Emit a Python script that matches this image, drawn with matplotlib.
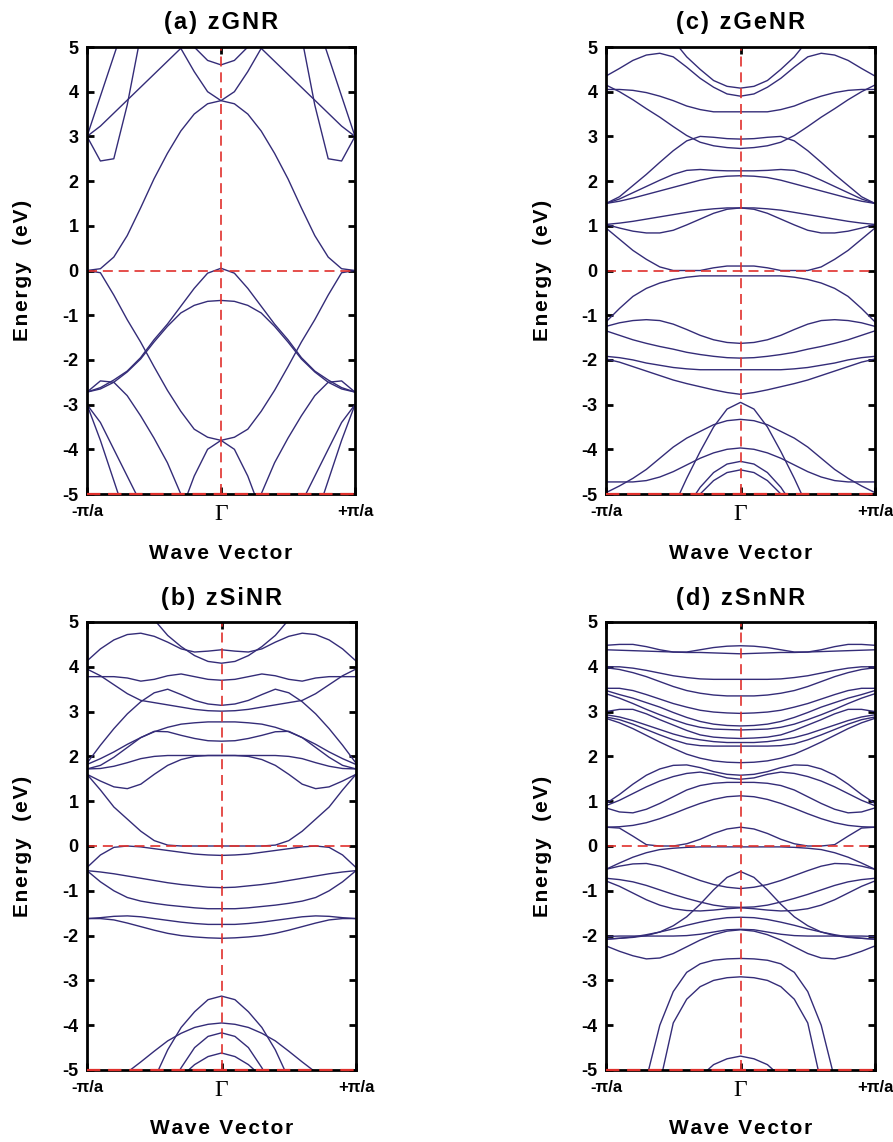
import numpy as np
import matplotlib
matplotlib.use("Agg")
import matplotlib.pyplot as plt

# ---------------- data (half Brillouin zone, symmetric about Gamma) ----------------
K_HALF = [0.0, 0.1, 0.2, 0.3, 0.4, 0.5, 0.6, 0.7, 0.8, 0.9, 1.0]

ZGNR_BANDS = [
    [3.80, 3.73, 3.50, 3.12, 2.62, 2.05, 1.40, 0.78, 0.30, 0.04, 0.00],
    [4.60, 4.70, 5.00, 5.45, 6.00, 6.50, 7.00, 7.50, 8.00, 8.30, 8.40],
    [3.80, 4.00, 4.45, 4.97, 4.68, 4.39, 4.10, 3.81, 3.52, 3.23, 3.00],
    [7.50, 7.30, 7.00, 6.70, 6.30, 5.80, 5.25, 3.70, 2.50, 2.45, 3.00],
    [8.00, 8.00, 8.00, 8.00, 7.80, 7.40, 6.80, 5.70, 4.80, 3.90, 3.00],
    [-3.80, -3.73, -3.55, -3.15, -2.68, -2.15, -1.60, -1.10, -0.55, -0.05, 0.00],
    [0.05, -0.06, -0.40, -0.80, -1.20, -1.55, -1.95, -2.25, -2.45, -2.62, -2.72],
    [-0.67, -0.69, -0.78, -0.95, -1.25, -1.60, -1.98, -2.27, -2.50, -2.65, -2.72],
    [-6.00, -5.90, -5.60, -5.00, -4.30, -3.75, -3.25, -2.80, -2.50, -2.47, -2.72],
    [-3.80, -4.00, -4.60, -5.40, -6.30, -7.00, -7.50, -8.00, -8.00, -8.00, -8.00],
    [-9.00, -9.00, -9.00, -9.00, -8.50, -8.00, -7.50, -5.60, -4.70, -3.80, -3.00],
    [-9.00, -9.00, -8.50, -8.00, -7.20, -5.70, -5.20, -4.60, -4.00, -3.40, -3.00],
]

ZGENR_BANDS = [
    [0.10, 0.10, 0.06, 0.00, 0.00, 0.00, 0.08, 0.25, 0.45, 0.70, 0.95],
    [1.40, 1.37, 1.28, 1.15, 1.02, 0.90, 0.84, 0.84, 0.88, 0.95, 1.03],
    [1.40, 1.40, 1.38, 1.35, 1.30, 1.25, 1.20, 1.15, 1.10, 1.06, 1.03],
    [2.12, 2.11, 2.08, 2.02, 1.94, 1.86, 1.78, 1.70, 1.62, 1.55, 1.50],
    [2.23, 2.23, 2.24, 2.26, 2.24, 2.15, 2.02, 1.88, 1.74, 1.60, 1.50],
    [2.94, 2.95, 2.98, 3.00, 2.90, 2.68, 2.42, 2.15, 1.90, 1.65, 1.50],
    [2.73, 2.75, 2.79, 2.87, 3.02, 3.22, 3.43, 3.62, 3.82, 4.00, 4.15],
    [3.55, 3.55, 3.55, 3.60, 3.68, 3.80, 3.90, 3.98, 4.03, 4.05, 4.05],
    [3.90, 3.95, 4.10, 4.30, 4.55, 4.78, 4.86, 4.82, 4.70, 4.52, 4.35],
    [4.08, 4.12, 4.25, 4.50, 4.78, 5.15, 5.60, 6.00, 6.30, 6.50, 6.60],
    [-0.12, -0.12, -0.12, -0.12, -0.15, -0.20, -0.28, -0.40, -0.58, -0.85, -1.15],
    [-1.63, -1.61, -1.55, -1.45, -1.32, -1.20, -1.12, -1.10, -1.12, -1.17, -1.25],
    [-1.96, -1.95, -1.92, -1.88, -1.83, -1.76, -1.70, -1.63, -1.55, -1.45, -1.35],
    [-2.22, -2.22, -2.22, -2.22, -2.20, -2.17, -2.12, -2.07, -2.00, -1.95, -1.92],
    [-2.77, -2.73, -2.67, -2.60, -2.53, -2.45, -2.35, -2.25, -2.15, -2.05, -1.98],
    [-2.95, -3.10, -3.50, -4.05, -4.65, -5.30, -6.00, -6.50, -7.00, -7.00, -7.00],
    [-3.33, -3.36, -3.45, -3.60, -3.75, -3.95, -4.20, -4.45, -4.65, -4.82, -4.97],
    [-3.97, -4.00, -4.08, -4.20, -4.35, -4.50, -4.62, -4.70, -4.73, -4.73, -4.73],
    [-4.27, -4.33, -4.52, -4.85, -5.30, -5.80, -6.30, -7.00, -7.00, -7.00, -7.00],
    [-4.46, -4.52, -4.70, -5.00, -5.40, -5.90, -6.40, -7.00, -7.00, -7.00, -7.00],
]

ZSINR_BANDS = [
    [4.38, 4.35, 4.33, 4.40, 4.55, 4.68, 4.75, 4.72, 4.60, 4.40, 4.13],
    [4.08, 4.12, 4.25, 4.45, 4.70, 5.05, 5.50, 6.00, 6.40, 6.70, 6.80],
    [3.70, 3.72, 3.78, 3.84, 3.80, 3.72, 3.68, 3.75, 3.78, 3.78, 3.78],
    [3.01, 3.02, 3.05, 3.10, 3.15, 3.20, 3.25, 3.40, 3.60, 3.80, 3.95],
    [3.14, 3.17, 3.25, 3.38, 3.50, 3.42, 3.22, 2.95, 2.62, 2.25, 1.85],
    [2.77, 2.77, 2.75, 2.72, 2.65, 2.55, 2.42, 2.27, 2.10, 1.95, 1.82],
    [2.34, 2.35, 2.40, 2.47, 2.55, 2.56, 2.42, 2.20, 1.98, 1.80, 1.72],
    [2.02, 2.02, 2.02, 2.02, 2.02, 2.00, 1.95, 1.86, 1.78, 1.73, 1.72],
    [2.02, 2.02, 2.00, 1.93, 1.80, 1.60, 1.38, 1.28, 1.32, 1.45, 1.60],
    [0.00, 0.00, 0.00, 0.00, 0.02, 0.12, 0.33, 0.60, 0.87, 1.25, 1.60],
    [-0.21, -0.20, -0.18, -0.14, -0.10, -0.06, -0.02, 0.00, -0.03, -0.20, -0.48],
    [-0.93, -0.92, -0.89, -0.86, -0.82, -0.77, -0.72, -0.67, -0.62, -0.58, -0.55],
    [-1.40, -1.40, -1.38, -1.35, -1.32, -1.28, -1.23, -1.15, -1.00, -0.80, -0.55],
    [-1.75, -1.75, -1.73, -1.70, -1.66, -1.62, -1.58, -1.56, -1.57, -1.60, -1.62],
    [-2.06, -2.05, -2.03, -2.00, -1.95, -1.88, -1.80, -1.72, -1.65, -1.62, -1.62],
    [-3.35, -3.43, -3.70, -4.05, -4.55, -5.20, -6.00, -6.50, -7.00, -7.00, -7.00],
    [-3.95, -3.98, -4.05, -4.18, -4.35, -4.58, -4.82, -5.05, -5.30, -5.50, -5.60],
    [-4.17, -4.25, -4.50, -4.95, -5.50, -6.00, -6.50, -7.00, -7.00, -7.00, -7.00],
    [-4.62, -4.70, -4.88, -5.15, -5.50, -6.00, -6.50, -7.00, -7.00, -7.00, -7.00],
]

ZSNNR_BANDS = [
    [4.47, 4.46, 4.43, 4.38, 4.33, 4.33, 4.38, 4.45, 4.50, 4.50, 4.48],
    [4.29, 4.30, 4.31, 4.32, 4.32, 4.33, 4.34, 4.35, 4.36, 4.37, 4.38],
    [3.72, 3.72, 3.72, 3.73, 3.76, 3.80, 3.86, 3.92, 3.97, 4.00, 4.00],
    [3.35, 3.35, 3.37, 3.41, 3.47, 3.56, 3.67, 3.78, 3.87, 3.94, 3.98],
    [2.96, 2.97, 2.99, 3.03, 3.10, 3.18, 3.28, 3.38, 3.47, 3.52, 3.52],
    [2.68, 2.69, 2.72, 2.78, 2.87, 2.98, 3.10, 3.20, 3.30, 3.38, 3.47],
    [2.59, 2.60, 2.61, 2.65, 2.72, 2.82, 2.93, 3.05, 3.18, 3.30, 3.40],
    [2.40, 2.41, 2.43, 2.48, 2.58, 2.70, 2.82, 2.95, 3.05, 3.05, 3.00],
    [2.31, 2.31, 2.33, 2.37, 2.42, 2.50, 2.60, 2.70, 2.80, 2.88, 2.93],
    [2.23, 2.23, 2.23, 2.24, 2.28, 2.37, 2.48, 2.60, 2.72, 2.82, 2.88],
    [1.86, 1.87, 1.90, 1.96, 2.05, 2.18, 2.32, 2.47, 2.62, 2.75, 2.85],
    [1.58, 1.60, 1.66, 1.75, 1.81, 1.80, 1.72, 1.58, 1.38, 1.15, 0.95],
    [1.49, 1.52, 1.60, 1.65, 1.62, 1.55, 1.45, 1.32, 1.17, 1.02, 0.90],
    [1.42, 1.42, 1.40, 1.35, 1.25, 1.10, 0.95, 0.82, 0.74, 0.76, 0.85],
    [1.12, 1.10, 1.04, 0.95, 0.84, 0.72, 0.61, 0.52, 0.46, 0.43, 0.42],
    [0.42, 0.38, 0.28, 0.15, 0.05, 0.00, 0.00, 0.03, 0.22, 0.40, 0.42],
    [-0.02, -0.02, -0.02, -0.02, -0.03, -0.05, -0.08, -0.15, -0.25, -0.38, -0.52],
    [-0.95, -0.92, -0.86, -0.77, -0.66, -0.55, -0.45, -0.39, -0.40, -0.45, -0.52],
    [-1.37, -1.36, -1.32, -1.25, -1.17, -1.08, -0.98, -0.88, -0.80, -0.75, -0.72],
    [-1.38, -1.40, -1.43, -1.45, -1.44, -1.40, -1.32, -1.20, -1.05, -0.90, -0.78],
    [-0.57, -0.70, -0.98, -1.30, -1.58, -1.78, -1.92, -2.00, -2.04, -2.06, -2.08],
    [-1.59, -1.60, -1.64, -1.70, -1.77, -1.85, -1.92, -1.98, -2.03, -2.06, -2.08],
    [-1.86, -1.87, -1.92, -1.97, -2.00, -2.01, -2.01, -2.01, -2.01, -2.01, -2.02],
    [-1.87, -1.90, -1.98, -2.10, -2.25, -2.40, -2.50, -2.52, -2.45, -2.35, -2.23],
    [-2.51, -2.52, -2.55, -2.63, -2.82, -3.25, -4.00, -5.20, -6.00, -6.50, -7.00],
    [-2.92, -2.94, -3.00, -3.14, -3.42, -3.95, -5.30, -6.00, -6.50, -7.00, -7.00],
    [-4.69, -4.75, -4.88, -5.15, -5.50, -6.00, -6.50, -7.00, -7.00, -7.00, -7.00],
]

TITLES = ["(a) zGNR", "(c) zGeNR", "(b) zSiNR", "(d) zSnNR"]
Y_TICKS = [-5, -4, -3, -2, -1, 0, 1, 2, 3, 4, 5]
Y_TICK_LABELS = ["-5", "-4", "-3", "-2", "-1", "0", "1", "2", "3", "4", "5"]
X_TICKS = [-1, 0, 1]
X_TICK_LABELS = ["-\u03c0/a", "\u0393", "+\u03c0/a"]

# ---------------- style ----------------
plt.rcParams['font.family'] = ['Liberation Sans', 'DejaVu Sans']
plt.rcParams['font.weight'] = 'bold'

BAND_COLOR = '#342c78'
RED = '#e0302c'
W, H = 893, 1142


def spaced(s):
    return '\u200a'.join(s)


fig = plt.figure(figsize=(W / 100, H / 100), dpi=100)

# axes rectangles in pixels: (left, top, right, bottom)
rects = [(87, 47, 355, 494), (606, 47, 875, 494),
         (87, 622, 356, 1070), (606, 622, 875, 1070)]
datasets = [ZGNR_BANDS, ZGENR_BANDS, ZSINR_BANDS, ZSNNR_BANDS]

k = np.array(K_HALF)
k_full = np.concatenate([-k[::-1], k[1:]])

for (l, t, r, b), bands, title in zip(rects, datasets, TITLES):
    ax = fig.add_axes([l / W, 1 - b / H, (r - l) / W, (b - t) / H])
    for vals in bands:
        e = np.array(vals)
        e_full = np.concatenate([e[::-1], e[1:]])
        ax.plot(k_full, e_full, color=BAND_COLOR, lw=1.0, zorder=2,
                solid_joinstyle='round')
    ax.axhline(0, color=RED, lw=1.2, dashes=(6, 3.5), zorder=3)
    ax.axvline(0, color=RED, lw=1.2, dashes=(6, 3.5), zorder=3)
    ax.axhline(-5, color=RED, lw=1.6, dashes=(6, 3.5), zorder=4, clip_on=False)
    ax.set_xlim(-1, 1)
    ax.set_ylim(-5, 5)
    ax.set_yticks(Y_TICKS)
    ax.set_yticklabels(Y_TICK_LABELS)
    ax.set_xticks(X_TICKS)
    ax.set_xticklabels(X_TICK_LABELS)
    ax.tick_params(axis='y', direction='in', left=True, right=True,
                   length=5, width=2, labelsize=13, pad=6)
    ax.tick_params(axis='x', direction='in', top=True, bottom=True,
                   length=5, width=2, labelsize=12, pad=7)
    for lbl in ax.get_xticklabels():
        if lbl.get_text() == "\u0393":
            lbl.set_fontfamily(['Liberation Serif', 'DejaVu Serif'])
            lbl.set_fontweight('normal')
            lbl.set_fontsize(17)
    for sp in ax.spines.values():
        sp.set_linewidth(2)
        sp.set_zorder(3.5)

    cx = (l + r) / 2
    fig.text(cx / W, 1 - (t - 24) / H, spaced(title), ha='center', va='center',
             fontsize=17, fontweight='bold')
    fig.text(cx / W, 1 - (b + 59) / H, spaced("Wave Vector"), ha='center',
             va='center', fontsize=15, fontweight='bold')
    fig.text((l - 64) / W, 1 - ((t + b) / 2) / H, spaced("Energy  (eV)"),
             ha='center', va='center', rotation=90, fontsize=15,
             fontweight='bold')

fig.savefig("out.png", dpi=100)
